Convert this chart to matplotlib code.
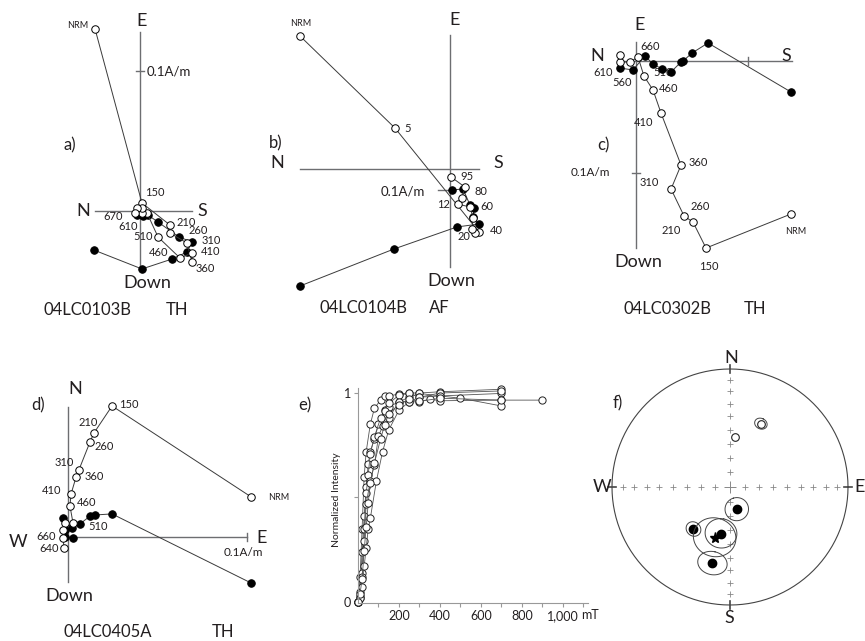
import numpy as np
import matplotlib
matplotlib.use('Agg')
import matplotlib.pyplot as plt
from matplotlib.lines import Line2D

plt.rcParams['font.family'] = ['Lato', 'DejaVu Sans']

# ---------------- data (mA/m) ----------------
# a) 04LC0103B TH
a_open_x = [-32.1, 1.4, 21.4, 21.4, 33.6, 37.1, 37.1, 28.6, 12.9, 5.0, 1.4, 1.4, -2.1, -3.6]
a_open_y = [130.0, 5.7, -10.0, -15.7, -22.9, -36.4, -30.0, -33.6, -18.6, -1.4, -1.4, 2.1, 2.1, -1.4]
a_fill_x = [-32.9, 1.4, 22.9, 33.6, 37.1, 27.9, 12.9, 5.7, 2.1, -2.1]
a_fill_y = [-27.9, -41.4, -34.3, -29.3, -22.1, -18.6, -7.9, -2.9, -3.6, -2.9]

# b) 04LC0104B AF
b_open_x = [-714, -262, 138, 119, 105, 110, 95, 38, 57, 71, 5]
b_open_y = [633, 195, -300, -305, -286, -233, -181, -167, -138, -86, -38]
b_fill_x = [-714, -267, 33, 138, 110, 114, 95, 62, 10]
b_fill_y = [-557, -381, -276, -262, -229, -186, -171, -95, -100]

# c) 04LC0302B TH
c_open_x = [138.4, 62.5, 50.9, 42.9, 31.3, 40.2, 22.3, 15.2, 7.1, 1.8, -5.4, -14.3, -14.3]
c_open_y = [-136.6, -167.0, -143.8, -138.4, -114.3, -92.9, -46.4, -25.9, -13.4, 3.6, -0.9, -0.9, 5.4]
c_fill_x = [138.4, 64.3, 50.0, 42.0, 40.2, 31.3, 23.2, 15.2, 8.0, -2.7, -14.3]
c_fill_y = [-27.7, 16.1, 7.1, 0.0, -0.9, -9.8, -7.1, -2.7, 4.5, -8.0, -6.3]

# d) 04LC0405A TH
d_open_x = [102.3, 24.6, 14.5, 12.3, 6.1, 4.5, 1.7, 1.1, 2.8, -1.7, -2.8, -2.8, -2.2]
d_open_y = [22.4, 73.2, 58.1, 53.1, 37.5, 33.5, 24.0, 17.3, 7.8, 7.8, 3.9, -0.6, -6.1]
d_fill_x = [102.3, 24.6, 15.1, 12.3, 6.7, 2.2, -2.8, -1.7, -1.7, 2.8]
d_fill_y = [-25.7, 12.9, 12.3, 11.7, 7.3, 5.0, 10.6, 3.9, 0.0, -0.6]

# e) normalized intensity curves
e_x1 = [0, 10, 20, 30, 40, 60, 80, 110, 130, 150, 200, 250, 300, 400, 700]
e_y1 = [0, 0.12, 0.35, 0.6, 0.72, 0.85, 0.927, 0.966, 0.986, 0.986, 0.995, 1.0, 1.0, 1.006, 1.018]
e_x2 = [0, 10, 20, 30, 40, 50, 60, 80, 100, 130, 150, 200, 250, 300, 400, 700]
e_y2 = [0, 0.05, 0.24, 0.41, 0.55, 0.66, 0.72, 0.78, 0.85, 0.92, 0.934, 0.958, 0.98, 0.998, 0.986, 0.998]
e_x3 = [0, 10, 20, 30, 40, 50, 60, 80, 110, 130, 150, 200, 250, 300, 400, 700]
e_y3 = [0, 0.03, 0.14, 0.35, 0.52, 0.61, 0.71, 0.79, 0.88, 0.915, 0.95, 0.99, 0.998, 0.98, 1.0, 1.01]
e_x4 = [0, 10, 20, 30, 40, 60, 80, 100, 120, 150, 200, 250, 300, 350, 400, 700, 900]
e_y4 = [0, 0.02, 0.12, 0.29, 0.47, 0.58, 0.655, 0.794, 0.84, 0.88, 0.958, 0.958, 0.958, 0.971, 0.963, 0.966, 0.966]
e_x5 = [0, 10, 20, 30, 40, 50, 60, 90, 120, 150, 200, 250, 300, 400, 500, 700]
e_y5 = [0, 0.02, 0.07, 0.17, 0.26, 0.35, 0.40, 0.58, 0.72, 0.823, 0.918, 0.958, 0.98, 0.986, 0.975, 0.938]
e_x6 = [0, 10, 20, 30, 40, 50, 60, 80, 110, 130, 150, 200, 250, 300, 400, 700]
e_y6 = [0, 0.04, 0.11, 0.245, 0.36, 0.475, 0.57, 0.665, 0.78, 0.847, 0.90, 0.945, 0.97, 0.96, 0.975, 0.966]

# f) site directions (dec, inc, a95)
f_dec = [26, 6, 163, 221, 191, 193]
f_inc = [-40, -55, 74, 51, 57, 34]
f_a95 = [4, 0, 8, 5, 10.5, 9]
mean_dec, mean_inc, mean_a95 = 197, 53, 14

# ---------------- layout ----------------
W, H = 865, 641
TXT = '#231f20'
AXC = '#6d6e71'
LNC = '#3a3a3a'
DIR = 13     # direction letters
STEP = 8     # step labels
TITLE = 12
fig = plt.figure(figsize=(W / 100, H / 100), dpi=100)


def txt(px, py, s, size=7, ha='center', va='center', **kw):
    fig.text(px / W, 1 - py / H, s, fontsize=size, ha=ha, va=va, color=TXT, **kw)


def seg(x1, y1, x2, y2, color=AXC, lw=1.0):
    fig.add_artist(Line2D([x1 / W, x2 / W], [1 - y1 / H, 1 - y2 / H],
                          color=color, lw=lw, zorder=-1))


def zpanel(box, origin, ppu):
    # axes covering a pixel box, data (0,0) at origin, ppu pixels per data unit
    l, t, w, h = box
    ox, oy = origin
    ax = fig.add_axes([l / W, 1 - (t + h) / H, w / W, h / H])
    ax.set_xlim((l - ox) / ppu, (l + w - ox) / ppu)
    ax.set_ylim((oy - t - h) / ppu, (oy - t) / ppu)
    ax.set_axis_off()
    return ax


def zplot(ax, ox_, oy_, fx_, fy_):
    ax.plot(fx_, fy_, '-o', color=LNC, lw=0.7, ms=5.4, mfc='black', mec='black',
            mew=0.7, clip_on=False)
    ax.plot(ox_, oy_, '-o', color=LNC, lw=0.7, ms=5.4, mfc='white', mec='black',
            mew=0.7, clip_on=False)


# ----- a) -----
ax_a = zpanel((0, 0, 235, 320), (140, 211), 1.4)
seg(95, 211, 192, 211)
seg(140, 32, 140, 267)
seg(136, 71, 144, 71)
zplot(ax_a, a_open_x, a_open_y, a_fill_x, a_fill_y)
txt(142, 21, 'E', DIR)
txt(83, 211, 'N', DIR)
txt(202, 211, 'S', DIR)
txt(147, 283, 'Down', DIR)
txt(70, 145, 'a)', 12)
txt(147, 72, '0.1A/m', 9.5, ha='left')
txt(88, 26, 'NRM', 6.5, ha='right')
for s, x, y in [('150', 155, 193), ('670', 113, 216), ('610', 128, 227), ('210', 186, 222),
                ('260', 198, 231), ('310', 211, 241), ('410', 211, 252), ('360', 205, 268),
                ('510', 143, 237), ('460', 159, 253)]:
    txt(x, y, s, STEP)
txt(87, 310, '04LC0103B', TITLE)
txt(177, 310, 'TH', TITLE)

# ----- b) -----
ax_b = zpanel((235, 0, 325, 320), (450, 169), 0.21)
seg(300, 169, 479, 169)
seg(450, 35, 450, 267)
seg(438, 190, 450, 190)
zplot(ax_b, b_open_x, b_open_y, b_fill_x, b_fill_y)
txt(455, 20, 'E', DIR)
txt(277, 163, 'N', DIR)
txt(498, 163, 'S', DIR)
txt(451, 281, 'Down', DIR)
txt(276, 143, 'b)', 12)
txt(403, 192, '0.1A/m', 9.5)
txt(301, 23, 'NRM', 6.5)
for s, x, y in [('5', 408, 128), ('95', 467, 176), ('80', 481, 191), ('12', 444, 204),
                ('60', 487, 207), ('40', 496, 230), ('20', 464, 237)]:
    txt(x, y, s, STEP)
txt(364, 308, '04LC0104B', TITLE)
txt(439, 308, 'AF', TITLE)

# ----- c) -----
ax_c = zpanel((560, 0, 305, 320), (636, 61), 1.12)
seg(620, 61, 792, 61)
seg(636, 42, 636, 248)
seg(748, 57, 748, 65)
seg(632, 173, 640, 173)
txt(663, 72, '510', STEP, zorder=-1)
zplot(ax_c, c_open_x, c_open_y, c_fill_x, c_fill_y)
txt(640, 25, 'E', DIR)
txt(597, 56, 'N', DIR)
txt(786, 56, 'S', DIR)
txt(638, 262, 'Down', DIR)
txt(603, 145, 'c)', 12)
txt(590, 173, '0.1A/m', 8.5)
txt(796, 232, 'NRM', 6.5)
for s, x, y in [('660', 650, 46), ('610', 603, 72), ('560', 622, 83), ('460', 669, 89),
                ('410', 644, 123), ('360', 698, 163), ('310', 649, 183), ('260', 700, 207),
                ('210', 671, 230), ('150', 709, 266)]:
    txt(x, y, s, STEP)
txt(668, 309, '04LC0302B', TITLE)
txt(755, 309, 'TH', TITLE)

# ----- d) -----
ax_d = zpanel((0, 330, 300, 311), (68, 537), 1.79)
seg(62, 537, 247, 537)
seg(68, 407, 68, 582)
seg(247, 533, 247, 541)
zplot(ax_d, d_open_x, d_open_y, d_fill_x, d_fill_y)
txt(75, 389, 'N', DIR)
txt(38, 405, 'd)', 12)
txt(18, 542, 'W', DIR)
txt(262, 538, 'E', DIR)
txt(69, 596, 'Down', DIR)
txt(243, 552, '0.1A/m', 8.5)
txt(279, 497, 'NRM', 6.5)
for s, x, y in [('150', 129, 405), ('210', 88, 422), ('260', 104, 447), ('310', 64, 463),
                ('360', 94, 476), ('410', 52, 491), ('460', 87, 503), ('510', 98, 526),
                ('660', 46, 537), ('640', 49, 548)]:
    txt(x, y, s, STEP)
txt(108, 632, '04LC0405A', TITLE)
txt(223, 632, 'TH', TITLE)

# ----- e) -----
ax_e = fig.add_axes([358 / W, 1 - 603 / H, 230 / W, 215 / H])
for xs, ys in [(e_x1, e_y1), (e_x2, e_y2), (e_x3, e_y3), (e_x4, e_y4), (e_x5, e_y5), (e_x6, e_y6)]:
    ax_e.plot(xs, ys, '-o', color='#555555', lw=0.6, ms=5.2, mfc='white', mec='#222222',
              mew=0.7, clip_on=False)
ax_e.set_xlim(0, 1122)
ax_e.set_ylim(-0.005, 1.024)
for side in ['top', 'right']:
    ax_e.spines[side].set_visible(False)
for side in ['left', 'bottom']:
    ax_e.spines[side].set_color('#999999')
    ax_e.spines[side].set_linewidth(0.8)
ax_e.set_xticks(range(100, 1101, 100))
ax_e.set_xticklabels(['', '200', '', '400', '', '600', '', '800', '', '1,000', ''])
ax_e.set_yticks([0, 0.5, 1])
ax_e.set_yticklabels(['0', '', '1'])
ax_e.tick_params(direction='out', length=3, color='#999999', labelsize=9,
                 labelcolor=TXT, pad=2)
ax_e.set_ylabel('Normalized Intensity', fontsize=7.5, color=TXT)
ax_e.yaxis.set_label_coords(-0.075, 0.48)
ax_e.patch.set_alpha(0)
txt(590, 615, 'mT', 9)
txt(305, 405, 'e)', 12)

# ----- f) -----
ax_f = zpanel((590, 345, 275, 285), (730, 487), 118)


def eqarea(dec, inc):
    r = np.sqrt(2) * np.sin(np.radians(90 - np.abs(inc)) / 2)
    return r * np.sin(np.radians(dec)), r * np.cos(np.radians(dec))


def cone(dec, inc, a95, n=120):
    d, i = np.radians(dec), np.radians(inc)
    v = np.array([np.cos(i) * np.cos(d), np.cos(i) * np.sin(d), np.sin(i)])
    p1 = np.array([-np.sin(i) * np.cos(d), -np.sin(i) * np.sin(d), np.cos(i)])
    p2 = np.cross(v, p1)
    t = np.linspace(0, 2 * np.pi, n)
    a = np.radians(a95)
    pts = np.cos(a) * v[:, None] + np.sin(a) * (np.cos(t) * p1[:, None] + np.sin(t) * p2[:, None])
    dd = np.degrees(np.arctan2(pts[1], pts[0]))
    ii = np.degrees(np.arcsin(np.clip(pts[2], -1, 1)))
    return eqarea(dd, ii)


th = np.linspace(0, 2 * np.pi, 361)
ax_f.plot(np.cos(th), np.sin(th), color='#444444', lw=0.8)
rr = np.sqrt(2) * np.sin(np.radians(np.arange(10, 90, 10)) / 2)
for sx, sy in [(1, 0), (-1, 0), (0, 1), (0, -1)]:
    ax_f.plot(sx * rr, sy * rr, '+', color='#888888', ms=4, mew=0.6, ls='none')
    ax_f.plot([sx * 0.97, sx * 1.03], [sy * 0.97, sy * 1.03], color='#444444', lw=1.2)
ax_f.plot(0, 0, '+', color='#888888', ms=9, mew=0.7)

for dec, inc, a95 in zip(f_dec, f_inc, f_a95):
    x, y = eqarea(dec, inc)
    if a95 > 0:
        cx, cy = cone(dec, inc, a95)
        ax_f.plot(cx, cy, color='#444444', lw=0.7)
    if inc < 0:
        ax_f.plot(x, y, 'o', ms=5.5, mfc='white', mec='#222222', mew=0.8)
    else:
        ax_f.plot(x, y, 'o', ms=6, mfc='black', mec='black')
mx, my = eqarea(mean_dec, mean_inc)
cx, cy = cone(mean_dec, mean_inc, mean_a95)
ax_f.plot(cx, cy, color='#444444', lw=0.7)
ax_f.plot(mx, my, '*', ms=8, color='black')

txt(731, 358, 'N', DIR)
txt(729, 618, 'S', DIR)
txt(602, 487, 'W', DIR)
txt(860, 487, 'E', DIR)
txt(618, 403, 'f)', 12)

fig.savefig('out.png', dpi=100)
